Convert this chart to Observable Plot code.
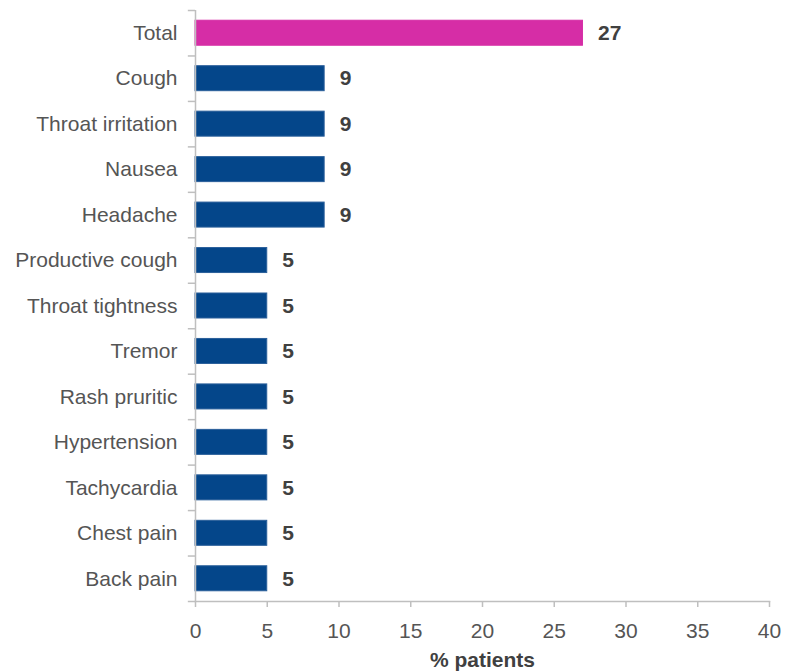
<!DOCTYPE html>
<html>
<head>
<meta charset="utf-8">
<script src="https://cdn.jsdelivr.net/npm/d3@7"></script>
<script src="https://cdn.jsdelivr.net/npm/@observablehq/plot@0.6"></script>
<style>
  html, body { margin: 0; padding: 0; background: #fff; }
  #chart svg { display: block; }
</style>
</head>
<body>
<div id="chart"></div>
<script>
const categories = ["Total", "Cough", "Throat irritation", "Nausea", "Headache", "Productive cough", "Throat tightness", "Tremor", "Rash pruritic", "Hypertension", "Tachycardia", "Chest pain", "Back pain"];
const values = [27, 9, 9, 9, 9, 5, 5, 5, 5, 5, 5, 5, 5];
const xTicks = [0, 5, 10, 15, 20, 25, 30, 35, 40];
const xLabel = "% patients";

const data = categories.map((c, i) => ({category: c, value: values[i]}));

const W = 785, H = 672, mt = 10, mb = 71, ml = 195, mr = 16;
const step = (H - mt - mb) / categories.length;
const axisColor = "#bfbfbf";
const labelColor = "#555555";
const valueColor = "#404040";

const chart = Plot.plot({
  width: W,
  height: H,
  marginTop: mt,
  marginBottom: mb,
  marginLeft: ml,
  marginRight: mr,
  style: {fontFamily: "'Liberation Sans', Arial, sans-serif", fontSize: "21px", color: labelColor, background: "#fff"},
  x: {domain: [0, 40], ticks: xTicks},
  y: {domain: categories, paddingInner: 0.45, paddingOuter: 0.225, round: false},
  marks: [
    Plot.barX(data, {
      y: "category",
      x: "value",
      fill: d => d.category === "Total" ? "#D62DA6" : "#04468A",
      stroke: d => d.category === "Total" ? "#D62DA6" : "#2A5F9A",
      strokeWidth: 1
    }),
    Plot.ruleX([0], {stroke: axisColor, strokeWidth: 1.5}),
    Plot.frame({anchor: "bottom", stroke: axisColor, strokeWidth: 1.5}),
    Plot.ruleY(categories, {y: d => d, x1: -0.5, x2: 0, dy: -step / 2, stroke: axisColor, strokeWidth: 1.5, clip: false}),
    Plot.ruleY([categories[categories.length - 1]], {y: d => d, x1: -0.5, x2: 0, dy: step / 2, stroke: axisColor, strokeWidth: 1.5, clip: false}),
    Plot.axisX({ticks: xTicks, tickSize: 6, tickPadding: 16, stroke: axisColor, strokeWidth: 1.5, fill: labelColor, fontSize: 21, label: null}),
    Plot.axisY({tickSize: 0, tickPadding: 18, fill: labelColor, fontSize: 21, label: null}),
    Plot.text(data, {
      y: "category",
      x: "value",
      text: d => String(d.value),
      dx: 15,
      textAnchor: "start",
      fontWeight: "bold",
      fontSize: 21,
      fill: valueColor
    }),
    Plot.text([xLabel], {
      text: d => d,
      frameAnchor: "bottom",
      lineAnchor: "bottom",
      dy: 65,
      fontWeight: "bold",
      fontSize: 21,
      fill: valueColor
    })
  ]
});

document.getElementById("chart").appendChild(chart);
</script>
</body>
</html>
